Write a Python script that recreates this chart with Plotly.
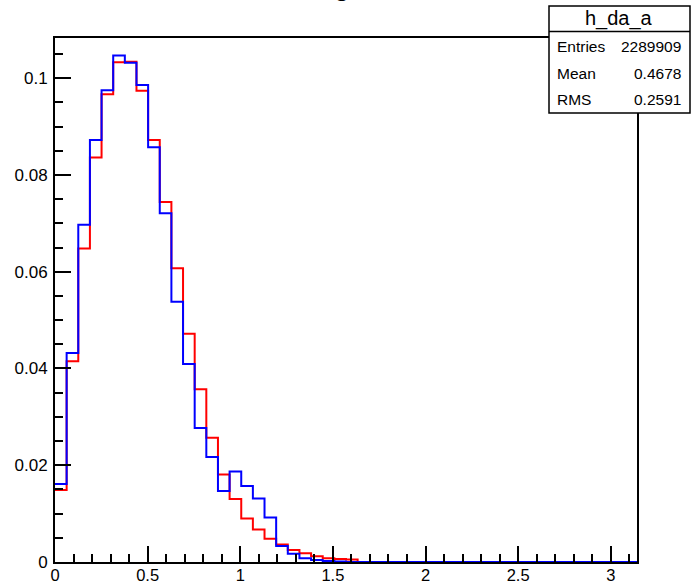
import numpy as np
import plotly.graph_objects as go

# ---- data (50 bins over [0, pi]) ----
n_bins = 50
x_min, x_max = 0.0, np.pi

red_values = [
    0.0149, 0.0415, 0.0648, 0.0836, 0.0967, 0.1033, 0.1034, 0.0974, 0.0872, 0.0744,
    0.0607, 0.0472, 0.0357, 0.0257, 0.0181, 0.0130, 0.0090, 0.0067, 0.0048, 0.0036,
    0.0025, 0.0018, 0.0012, 0.0008, 0.0006, 0.0005, 0.0, 0.0, 0.0, 0.0,
    0.0, 0.0, 0.0, 0.0, 0.0, 0.0, 0.0, 0.0, 0.0, 0.0,
    0.0, 0.0, 0.0, 0.0, 0.0, 0.0, 0.0, 0.0, 0.0, 0.0,
]
blue_values = [
    0.0161, 0.0432, 0.0697, 0.0872, 0.0975, 0.1047, 0.1032, 0.0986, 0.0857, 0.0721,
    0.0538, 0.0409, 0.0277, 0.0217, 0.0147, 0.0187, 0.0157, 0.0131, 0.0092, 0.0033,
    0.0017, 0.0008, 0.0004, 0.0002, 0.0001, 0.0, 0.0, 0.0, 0.0, 0.0,
    0.0, 0.0, 0.0, 0.0, 0.0, 0.0, 0.0, 0.0, 0.0, 0.0,
    0.0, 0.0, 0.0, 0.0, 0.0, 0.0, 0.0, 0.0, 0.0, 0.0,
]

stats_name = "h_da_a"
stats_labels = ["Entries", "Mean", "RMS"]
stats_values = ["2289909", "0.4678", "0.2591"]
title_text = "g"

# ---- layout geometry ----
W, H = 691, 586
L, R, T, B = 55, 54, 38, 24
PW, PH = W - L - R, H - T - B

def px_x(px):
    return (px - L) / PW

def px_y(py):
    return (H - B - py) / PH

edges = np.linspace(x_min, x_max, n_bins + 1)

def step(vals):
    return list(vals) + [vals[-1]]

FONT = "Liberation Sans, Arial, Helvetica, sans-serif"

fig = go.Figure()
fig.add_trace(go.Scatter(x=edges, y=step(red_values), mode="lines",
                         line=dict(color="#ff0000", width=2, shape="hv"),
                         hoverinfo="skip", showlegend=False))
fig.add_trace(go.Scatter(x=edges, y=step(blue_values), mode="lines",
                         line=dict(color="#0000ff", width=2, shape="hv"),
                         hoverinfo="skip", showlegend=False))

axis_common = dict(showline=True, linecolor="black", linewidth=2, mirror=True,
                   ticks="inside", tickcolor="black", tickwidth=2,
                   showgrid=False, zeroline=False, automargin=False)

fig.update_xaxes(range=[x_min, x_max], dtick=0.5, tick0=0, ticklen=16,
                 ticklabelstandoff=-3,
                 tickfont=dict(family=FONT, size=16.5, color="black"),
                 minor=dict(ticks="inside", dtick=0.1, ticklen=8, tickwidth=2,
                            tickcolor="black", showgrid=False),
                 **axis_common)
fig.update_yaxes(range=[0, 0.1083], dtick=0.02, tick0=0, ticklen=16,
                 ticklabelstandoff=2,
                 tickfont=dict(family=FONT, size=17, color="black"),
                 minor=dict(ticks="inside", dtick=0.005, ticklen=8, tickwidth=2,
                            tickcolor="black", showgrid=False),
                 **axis_common)

shapes = [
    dict(type="rect", xref="paper", yref="paper",
         x0=px_x(549), x1=px_x(690), y0=px_y(113), y1=px_y(6),
         line=dict(color="black", width=1.5), fillcolor="white", layer="above"),
    dict(type="line", xref="paper", yref="paper",
         x0=px_x(549), x1=px_x(690), y0=px_y(31.5), y1=px_y(31.5),
         line=dict(color="black", width=1.5), layer="above"),
]

annotations = [
    dict(text=stats_name, xref="paper", yref="paper", x=px_x(619), y=px_y(19),
         xanchor="center", yanchor="middle", showarrow=False,
         font=dict(family=FONT, size=20, color="black")),
    dict(text=title_text, xref="paper", yref="paper", x=px_x(342), y=px_y(-14),
         xanchor="center", yanchor="middle", showarrow=False,
         font=dict(family=FONT, size=28, color="black")),
]
row_y = [46, 73, 99]
for lab, val, ry in zip(stats_labels, stats_values, row_y):
    annotations.append(dict(text=lab, xref="paper", yref="paper", x=px_x(555), y=px_y(ry),
                            xanchor="left", yanchor="middle", showarrow=False,
                            font=dict(family=FONT, size=15.5, color="black")))
    annotations.append(dict(text=val, xref="paper", yref="paper", x=px_x(683), y=px_y(ry),
                            xanchor="right", yanchor="middle", showarrow=False,
                            font=dict(family=FONT, size=15.5, color="black")))

fig.update_layout(width=W, height=H, margin=dict(l=L, r=R, t=T, b=B, pad=0, autoexpand=False),
                  paper_bgcolor="white", plot_bgcolor="white",
                  shapes=shapes, annotations=annotations, showlegend=False)

fig.write_html("out.html", config={"displayModeBar": False},
               post_script="document.body.style.margin='0';document.body.style.overflow='hidden';")
